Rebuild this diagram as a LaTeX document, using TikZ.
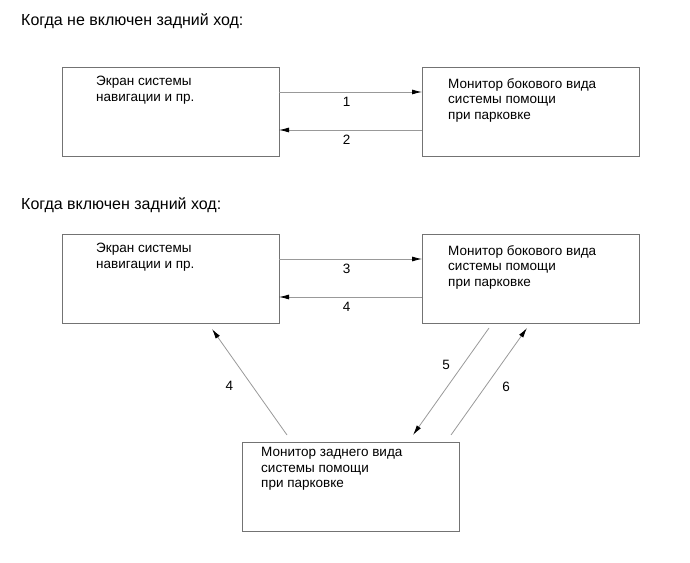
\documentclass[tikz,border=0pt]{standalone}
\usepackage{fontspec}
\setmainfont{Liberation Sans}
\usetikzlibrary{arrows.meta}

\tikzset{
  box/.style = {draw=gray!90!black, minimum width=217pt, minimum height=89pt,
                inner sep=0pt, outer sep=0pt, anchor=north west},
  boxtext/.style = {anchor=north west, align=left, inner sep=0pt,
                    font=\fontsize{13.5}{15.7}\selectfont},
  numtext/.style = {inner sep=0pt, font=\fontsize{13.5}{15.7}\selectfont},
  headtext/.style = {inner sep=0pt, anchor=base west, font=\fontsize{16}{19}\selectfont},
  arr/.style = {draw=gray!80, line width=0.8pt,
                -{Latex[length=10pt,width=5pt,color=black]}},
}

\begin{document}
\begin{tikzpicture}[x=1pt, y=1pt]
        % size of the page, as in the reference
        \useasboundingbox (0,0) rectangle (690,562);

        % headings
        \node[headtext] (headoff) at (21,536) {Когда не включен задний ход:};
        \node[headtext] (headon) at (21,352) {Когда включен задний ход:};

        % boxes, reverse gear off
        \node[box] (scr1) at (62,495) {};
        \node[box] (side1) at (422,495) {};

        % boxes, reverse gear on
        \node[box] (scr2) at (62,328) {};
        \node[box] (side2) at (422,328) {};
        \node[box] (rear) at (242,120) {};

        % texts in the boxes
        \node[boxtext] (scr1txt) at ([shift={(34,-9)}]scr1.north west) {Экран системы\\навигации и пр.};
        \node[boxtext] (side1txt) at ([shift={(26,-11)}]side1.north west) {Монитор бокового вида\\системы помощи\\при парковке};
        \node[boxtext] (scr2txt) at ([shift={(34,-9)}]scr2.north west) {Экран системы\\навигации и пр.};
        \node[boxtext] (side2txt) at ([shift={(26,-11)}]side2.north west) {Монитор бокового вида\\системы помощи\\при парковке};
        \node[boxtext] (reartxt) at ([shift={(19,-5)}]rear.north west) {Монитор заднего вида\\системы помощи\\при парковке};

        % signals between screen and side monitor
        \draw[arr] ([yshift=-25]scr1.north east) -- ([yshift=-25]side1.north west)
            node[numtext, midway, xshift=-4, yshift=-10] (lab1) {1};
        \draw[arr] ([yshift=-63]side1.north west) -- ([yshift=-63]scr1.north east)
            node[numtext, midway, xshift=-4, yshift=-10] (lab2) {2};
        \draw[arr] ([yshift=-25]scr2.north east) -- ([yshift=-25]side2.north west)
            node[numtext, midway, xshift=-4, yshift=-10] (lab3) {3};
        \draw[arr] ([yshift=-63]side2.north west) -- ([yshift=-63]scr2.north east)
            node[numtext, midway, xshift=-4, yshift=-10] (lab4) {4};

        % signals to and from the rear monitor
        \draw[arr] ([shift={(45,7)}]rear.north west) -- ([shift={(150,-6)}]scr2.south west)
            node[numtext, midway, xshift=-20, yshift=-4] (lab4b) {4};
        \draw[arr] ([shift={(67,-5)}]side2.south west) -- ([shift={(171,7)}]rear.north west)
            node[numtext, midway, xshift=-5, yshift=17] (lab5) {5};
        \draw[arr] ([shift={(209,7)}]rear.north west) -- ([shift={(105,-5)}]side2.south west)
            node[numtext, midway, xshift=17, yshift=-5] (lab6) {6};
\end{tikzpicture}
\end{document}
